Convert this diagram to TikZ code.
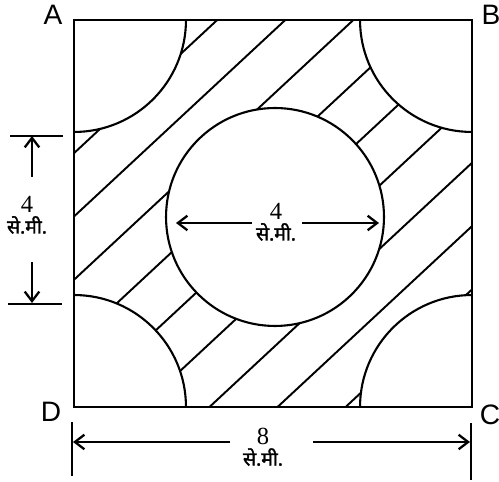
\documentclass[tikz,border=0pt]{standalone}
\usepackage{fontspec}
\setmainfont{Liberation Serif}
\newfontfamily\cornerfont{Liberation Sans}
\newfontfamily\devfont[Script=Devanagari, FakeBold=1.6]{Noto Sans}
\usetikzlibrary{arrows.meta}

\tikzset{
  edge/.style={line width=1.2pt},
  hatchline/.style={line width=1.1pt},
  extline/.style={line width=1pt},
  dimarrow/.style={line width=1pt,
    -{Straight Barb[length=1.9mm,width=2.9mm,line width=1.3pt]}},
  cornerlabel/.style={font=\cornerfont\fontsize{16}{16}\selectfont, inner sep=0pt},
  dimlabel/.style={align=center, inner sep=0pt,
    font=\fontsize{14}{12}\selectfont}
}
\newcommand{\semi}{{\devfont\fontsize{11}{10}\selectfont से.मी.}}

\begin{document}
\begin{tikzpicture}[x=0.02cm, y=0.02cm]
\useasboundingbox (0,0) rectangle (499,482);

% square corners and centre
\coordinate (A) at (74,462);
\coordinate (B) at (472,462);
\coordinate (C) at (472,75);
\coordinate (D) at (74,75);
\coordinate (O) at (275,265);

% hatching, cut out by the circles
\begin{scope}
  \clip (D) rectangle (B);
  \foreach \k in {0,...,8}{
    \pgfmathsetmacro{\b}{260-63.3*\k}
    \pgfmathsetmacro{\e}{\b+0.93*560}
    \draw[hatchline] (0,\b) -- (560,\e);
  }
  \foreach \p in {A,B,C,D}
    \fill[white] (\p) circle (2.24cm);
  \fill[white] (O) circle (2.18cm);
  \foreach \p in {A,B,C,D}
    \draw[edge] (\p) circle (2.24cm);
  \draw[edge] (O) circle (2.18cm);
\end{scope}
\draw[edge] (A) -- (B) -- (C) -- (D) -- cycle;

% corner letters
\node[cornerlabel] (lA) at (53,467) {A};
\node[cornerlabel] (lB) at (491,467) {B};
\node[cornerlabel] (lC) at (490,67) {C};
\node[cornerlabel] (lD) at (51,70) {D};

% left dimension
\coordinate (lt1) at (10,346);  \coordinate (lt2) at (63,346);
\coordinate (lb1) at (8,178);   \coordinate (lb2) at (62,178);
\draw[extline] (lt1) -- (lt2);
\draw[extline] (lb1) -- (lb2);
\node[dimlabel] (lenL) at (27,267) {4\\\semi};
\coordinate (ua) at (32,305);  \coordinate (ub) at (32,346);
\coordinate (da) at (32,220);  \coordinate (db) at (32,179);
\draw[dimarrow] (ua) -- (ub);
\draw[dimarrow] (da) -- (db);

% centre dimension
\node[dimlabel] (lenM) at (276,260) {4\\\semi};
\coordinate (ml1) at (252,259); \coordinate (ml2) at (176,259);
\coordinate (mr1) at (302,259); \coordinate (mr2) at (379,259);
\draw[dimarrow] (ml1) -- (ml2);
\draw[dimarrow] (mr1) -- (mr2);

% bottom dimension
\coordinate (bl1) at (72,60);  \coordinate (bl2) at (72,6);
\coordinate (br1) at (471,59); \coordinate (br2) at (471,2);
\draw[extline] (bl1) -- (bl2);
\draw[extline] (br1) -- (br2);
\node[dimlabel] (lenB) at (263,35) {8\\\semi};
\coordinate (al1) at (230,40); \coordinate (al2) at (73,40);
\coordinate (ar1) at (313,40); \coordinate (ar2) at (470,40);
\draw[dimarrow] (al1) -- (al2);
\draw[dimarrow] (ar1) -- (ar2);
\end{tikzpicture}
\end{document}
